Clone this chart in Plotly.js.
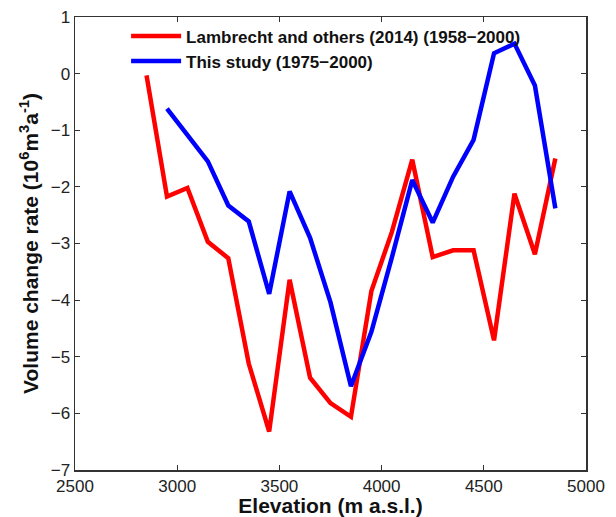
<!DOCTYPE html>
<html>
<head>
<meta charset="utf-8">
<script src="https://cdn.plot.ly/plotly-3.0.1.min.js"></script>
<style>html,body{margin:0;padding:0;background:#fff;}#chart{width:616px;height:517px;}</style>
</head>
<body>
<div id="chart"></div>
<script>
const elevation = [2850, 2950, 3050, 3150, 3250, 3350, 3450, 3550, 3650, 3750, 3850, 3950, 4050, 4150, 4250, 4350, 4450, 4550, 4650, 4750, 4850];
const lambrecht = [-0.03, -2.17, -2.02, -2.97, -3.26, -5.12, -6.32, -3.64, -5.37, -5.82, -6.06, -3.84, -2.8, -1.52, -3.24, -3.12, -3.12, -4.71, -2.12, -3.19, -1.5];
const elevationStudy = [2950, 3050, 3150, 3250, 3350, 3450, 3550, 3650, 3750, 3850, 3950, 4050, 4150, 4250, 4350, 4450, 4550, 4650, 4750, 4850];
const thisStudy = [-0.62, -1.07, -1.55, -2.33, -2.61, -3.89, -2.08, -2.9, -4.04, -5.52, -4.56, -3.25, -1.88, -2.63, -1.82, -1.17, 0.36, 0.53, -0.21, -2.38];
const seriesNames = ["Lambrecht and others (2014) (1958\u22122000)", "This study (1975\u22122000)"];
const xTicks = [2500, 3000, 3500, 4000, 4500, 5000];
const yTicks = [1, 0, -1, -2, -3, -4, -5, -6, -7];

const traces = [
  {x: elevation, y: lambrecht, name: seriesNames[0], type: 'scatter', mode: 'lines',
   line: {color: '#ff0000', width: 4.5}},
  {x: elevationStudy, y: thisStudy, name: seriesNames[1], type: 'scatter', mode: 'lines',
   line: {color: '#0000ff', width: 4.5}}
];

const axisCommon = {
  showgrid: false, zeroline: false, showline: true, mirror: 'ticks',
  linecolor: '#333', linewidth: 1.5, ticks: 'inside', ticklen: 5, tickcolor: '#333',
  tickfont: {family: 'Liberation Sans, Arial, sans-serif', size: 17, color: '#222'}
};

const layout = {
  width: 616, height: 517,
  margin: {l: 74.5, r: 30, t: 17, b: 47},
  paper_bgcolor: '#fff', plot_bgcolor: '#fff',
  showlegend: true,
  legend: {x: 0.1, y: 0.997, xanchor: 'left', yanchor: 'top', bgcolor: 'rgba(0,0,0,0)',
    font: {family: 'Liberation Sans, Arial, sans-serif', size: 17, color: '#111', weight: 'bold'},
    itemwidth: 50, tracegroupgap: 0},
  xaxis: Object.assign({}, axisCommon, {
    range: [2500, 5000], tickvals: xTicks, ticktext: xTicks.map(String),
    title: {text: 'Elevation (m a.s.l.)', standoff: 0,
      font: {family: 'Liberation Sans, Arial, sans-serif', size: 21, color: '#111', weight: 'bold'}}
  }),
  yaxis: Object.assign({}, axisCommon, {
    range: [-7, 1], tickvals: yTicks, ticktext: yTicks.map(v => v < 0 ? '\u2212' + Math.abs(v) : String(v)),
    title: {text: 'Volume change rate (10<sup>6</sup>m<sup>3</sup>a<sup>-1</sup>)', standoff: 6,
      font: {family: 'Liberation Sans, Arial, sans-serif', size: 21, color: '#111', weight: 'bold'}}
  })
};

Plotly.newPlot('chart', traces, layout, {displayModeBar: false, staticPlot: true});
</script>
</body>
</html>
